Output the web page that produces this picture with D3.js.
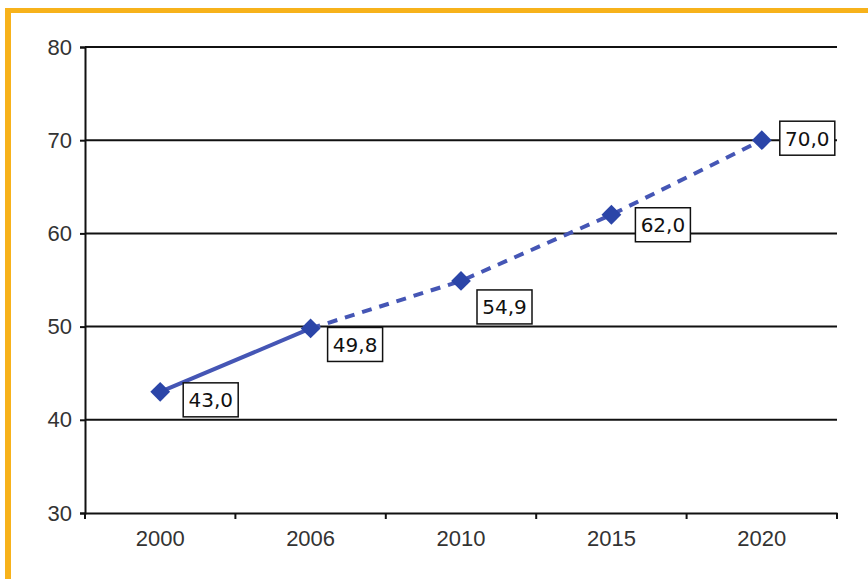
<!DOCTYPE html>
<html>
<head>
<meta charset="utf-8">
<script src="https://d3js.org/d3.v7.min.js"></script>
<style>
  body { margin: 0; background: #fff; }
  .tick text { font-family: "Liberation Sans", Arial, sans-serif; font-size: 22px; fill: #333; }
  .lbl { font-family: "DejaVu Sans", Verdana, sans-serif; font-size: 20px; fill: #111; }
</style>
</head>
<body>
<svg width="868" height="579"></svg>
<script>
var years = ["2000", "2006", "2010", "2015", "2020"];
var values = [43.0, 49.8, 54.9, 62.0, 70.0];
var labels = ["43,0", "49,8", "54,9", "62,0", "70,0"];
var yTicks = [30, 40, 50, 60, 70, 80];
var solidUntil = 1; // index where projection (dashed) starts

var svg = d3.select("svg");

// orange frame
svg.append("rect").attr("x", 0).attr("y", 0).attr("width", 868).attr("height", 579).attr("fill", "#fff");
svg.append("rect").attr("x", 5).attr("y", 8).attr("width", 863).attr("height", 5).attr("fill", "#f7b21b");
svg.append("rect").attr("x", 5).attr("y", 8).attr("width", 6).attr("height", 571).attr("fill", "#f7b21b");

var margin = {left: 85, top: 47, right: 31, bottom: 66};
var w = 868 - margin.left - margin.right, h = 579 - margin.top - margin.bottom;
var g = svg.append("g").attr("transform", "translate(" + margin.left + "," + margin.top + ")");

var x = d3.scaleBand().domain(years).range([0, w]);
var y = d3.scaleLinear().domain([30, 80]).range([h, 0]);

// gridlines
g.selectAll(".grid").data(yTicks.slice(1)).enter().append("line")
  .attr("x1", 0).attr("x2", w)
  .attr("y1", d => y(d)).attr("y2", d => y(d))
  .attr("stroke", "#111").attr("stroke-width", 2);

// y axis
var ya = g.append("g").call(d3.axisLeft(y).tickValues(yTicks).tickSize(5).tickPadding(8));
ya.select(".domain").attr("stroke", "#111").attr("stroke-width", 2);
ya.selectAll(".tick line").attr("stroke", "#111").attr("stroke-width", 2);

// x axis with ticks at band boundaries
var xa = g.append("g").attr("transform", "translate(0," + h + ")")
  .call(d3.axisBottom(x).tickSize(0).tickPadding(17));
xa.select(".domain").attr("stroke", "#111").attr("stroke-width", 2);
var bounds = years.map(d => x(d) + x.bandwidth()).concat([0]);
xa.selectAll(".btick").data(bounds).enter().append("line")
  .attr("x1", d => d).attr("x2", d => d).attr("y1", 0).attr("y2", 6)
  .attr("stroke", "#111").attr("stroke-width", 2);

var pts = years.map((d, i) => ({year: d, v: values[i], label: labels[i], i: i}));
var line = d3.line().x(d => x(d.year) + x.bandwidth() / 2).y(d => y(d.v));

g.append("path").datum(pts.slice(0, solidUntil + 1))
  .attr("d", line).attr("fill", "none").attr("stroke", "#4556b5").attr("stroke-width", 4);
g.append("path").datum(pts.slice(solidUntil))
  .attr("d", line).attr("fill", "none").attr("stroke", "#4556b5").attr("stroke-width", 4)
  .attr("stroke-dasharray", "10,8");

// diamond markers
g.selectAll(".pt").data(pts).enter().append("path")
  .attr("transform", d => "translate(" + (x(d.year) + x.bandwidth() / 2) + "," + y(d.v) + ")")
  .attr("d", d3.symbol().type(d3.symbolDiamond2).size(250))
  .attr("fill", "#2b45a8");

// value labels in boxes
var offs = [[23, -9], [17, -1], [16, 9], [24, -7], [18, -19]];
var lg = g.selectAll(".lb").data(pts).enter().append("g")
  .attr("transform", d => "translate(" + (x(d.year) + x.bandwidth() / 2 + offs[d.i][0]) + "," + (y(d.v) + offs[d.i][1]) + ")");
lg.append("rect").attr("width", 55).attr("height", 34)
  .attr("fill", "#fff").attr("stroke", "#111").attr("stroke-width", 1.5);
lg.append("text").attr("class", "lbl").attr("x", 27.5).attr("y", 24.5)
  .attr("text-anchor", "middle").text(d => d.label);
</script>
</body>
</html>
